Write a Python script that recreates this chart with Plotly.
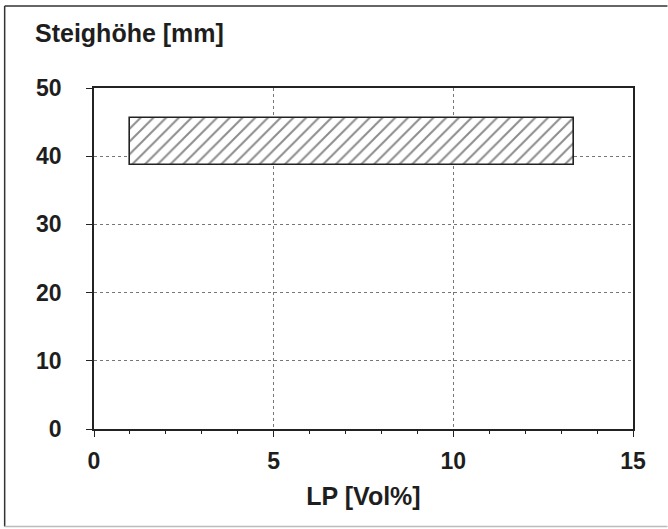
import plotly.graph_objects as go

# Data
x_start = [1.0]
x_end = [13.35]
y_low = [38.7]
y_high = [45.6]

x_ticks = [0, 5, 10, 15]
y_ticks = [0, 10, 20, 30, 40, 50]

FONT = "Liberation Sans, Arial, sans-serif"
TXT = "#1e1e1e"

centers = [(a + b) / 2 for a, b in zip(x_start, x_end)]
widths = [b - a for a, b in zip(x_start, x_end)]
heights = [h - l for l, h in zip(y_low, y_high)]

fig = go.Figure()
fig.add_trace(go.Bar(
    x=centers, y=heights, base=y_low, width=widths,
    marker=dict(
        color="white",
        line=dict(color="#222", width=1.6),
        pattern=dict(shape="/", size=9, solidity=0.22, fgcolor="#1a1a1a",
                     bgcolor="white", fillmode="overlay"),
    ),
    showlegend=False, hoverinfo="skip",
))

axis_common = dict(
    showline=True, linecolor="#222", linewidth=1.5, mirror=True,
    showgrid=True, gridcolor="#777", gridwidth=1, griddash="dot",
    zeroline=False, ticks="outside", ticklen=6, tickwidth=1.3, tickcolor="#222",
    tickfont=dict(family=FONT, size=23, color=TXT, weight="bold"),
)

fig.update_xaxes(
    range=[0, 15], tickvals=x_ticks, **axis_common,
    minor=dict(dtick=1, ticks="outside", ticklen=3, tickcolor="#222", showgrid=False),
    title=dict(text="LP [Vol%]", font=dict(family=FONT, size=25, color=TXT, weight="bold"), standoff=14),
    ticklabelstandoff=5,
)
fig.update_yaxes(
    range=[0, 50], tickvals=y_ticks, **axis_common,
    ticklabelstandoff=20,
)

PL, PR, PT, PB = 93.5, 633.5, 88.0, 429.3
PW, PH = PR - PL, PB - PT

def px_x(x):
    return (x - PL) / PW

def px_y(y):
    return (PB - y) / PH

fig.add_annotation(
    text="Steighöhe [mm]", xref="paper", yref="paper",
    x=px_x(32), y=px_y(33),
    xanchor="left", yanchor="middle", showarrow=False,
    font=dict(family=FONT, size=25, color=TXT, weight="bold"),
)

# outer figure frame
fig.add_shape(type="line", xref="paper", yref="paper",
              x0=px_x(4), x1=px_x(668), y0=px_y(6), y1=px_y(6),
              line=dict(color="#333", width=1.5))
fig.add_shape(type="line", xref="paper", yref="paper",
              x0=px_x(4), x1=px_x(4), y0=px_y(6), y1=px_y(527),
              line=dict(color="#333", width=1.5))
fig.add_shape(type="line", xref="paper", yref="paper",
              x0=px_x(4), x1=px_x(668), y0=px_y(527), y1=px_y(527),
              line=dict(color="#bbb", width=1.5))

fig.update_layout(
    width=668, height=529,
    margin=dict(l=PL, r=668 - PR, t=PT, b=529 - PB),
    paper_bgcolor="white", plot_bgcolor="white",
    bargap=0,
)

fig.write_html("out.html", config={"displayModeBar": False},
               post_script="document.body.style.margin='0';")
